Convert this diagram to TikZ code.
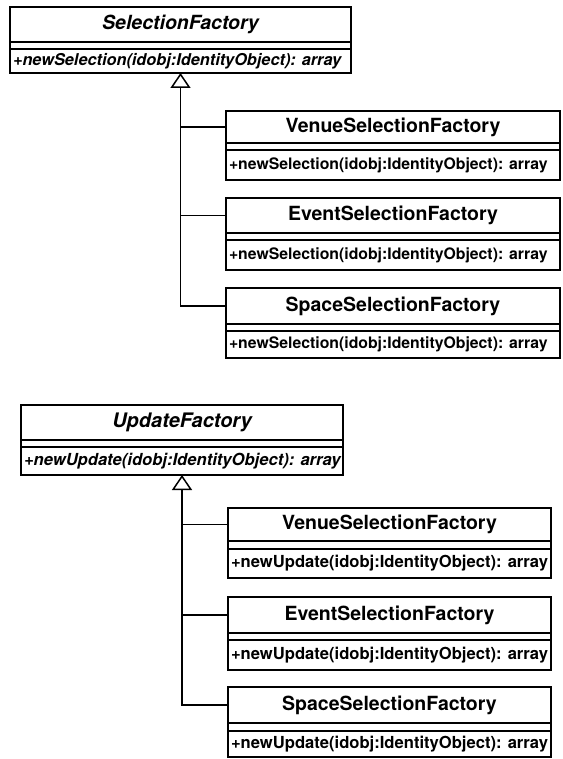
\documentclass[tikz,border=0pt]{standalone}
\usepackage{fontspec}
\setmainfont{TeX Gyre Heros}
\usetikzlibrary{arrows.meta}
\tikzset{
  clsbox/.style={draw, line width=1.3pt, inner sep=0pt, outer sep=0pt, anchor=north west},
  genline/.style={line width=1.5pt},
  genhead/.style={-{Triangle[open, length=15pt, width=20pt, line width=1.5pt]}},
}
\newcommand\umlclass[9]{%
  \pgfmathsetmacro\clsw{#4-#2}%
  \pgfmathsetmacro\clsha{#5-#3}%
  \pgfmathsetmacro\clshb{#6-#5}%
  \pgfmathsetmacro\clshc{#7-#6}%
  \node[clsbox, minimum width=\clsw pt, minimum height=\clsha pt] (#1) at (#2,#3) {\clstitlefont #8};
  \node[clsbox, minimum width=\clsw pt, minimum height=\clshb pt] (#1e) at (#1.south west) {};
  \node[clsbox, minimum width=\clsw pt, minimum height=\clshc pt] (#1m) at (#1e.south west) {\hbox to \clsw pt{\hspace{3pt}\clsmethfont #9\hss}};
}
\begin{document}
\begin{tikzpicture}[x=1pt, y=-1pt]
\fill[white] (0,0) rectangle (562,759);
\useasboundingbox (0,0) rectangle (562,759);

% ---------- top group ----------
\def\clstitlefont{\fontsize{19.5}{22}\selectfont\bfseries\itshape}
\def\clsmethfont{\fontsize{16.3}{18}\selectfont\bfseries\itshape}
\umlclass{sel}{10}{7}{351}{42}{49}{73}{SelectionFactory}{+newSelection(idobj:IdentityObject): array}

\def\clstitlefont{\fontsize{19.5}{22}\selectfont\bfseries}
\def\clsmethfont{\fontsize{15.8}{18}\selectfont\bfseries}
\umlclass{tvenue}{226}{111}{560}{143}{150}{180}{VenueSelectionFactory}{+newSelection(idobj:IdentityObject): array}
\umlclass{tevent}{226}{198}{560}{233}{240}{270}{EventSelectionFactory}{+newSelection(idobj:IdentityObject): array}
\umlclass{tspace}{226}{288}{560}{324}{331}{358}{SpaceSelectionFactory}{+newSelection(idobj:IdentityObject): array}

\draw[genline, genhead] (tspace.west) -| (selm.south);
\draw[genline] (tvenue.west) -- (tvenue.west -| selm.south);
\draw[genline] (tevent.west) -- (tevent.west -| selm.south);

% ---------- bottom group ----------
\def\clstitlefont{\fontsize{20}{22}\selectfont\bfseries\itshape}
\def\clsmethfont{\fontsize{16.6}{18}\selectfont\bfseries\itshape}
\umlclass{upd}{21}{405}{343}{440}{447}{475}{UpdateFactory}{+newUpdate(idobj:IdentityObject): array}

\def\clstitlefont{\fontsize{19.5}{22}\selectfont\bfseries}
\def\clsmethfont{\fontsize{16.6}{18}\selectfont\bfseries}
\umlclass{bvenue}{228}{508}{551}{541}{549}{578}{VenueSelectionFactory}{+newUpdate(idobj:IdentityObject): array}
\umlclass{bevent}{228}{597}{551}{633}{640}{670}{EventSelectionFactory}{+newUpdate(idobj:IdentityObject): array}
\umlclass{bspace}{228}{687}{551}{723}{731}{757}{SpaceSelectionFactory}{+newUpdate(idobj:IdentityObject): array}

\draw[genline, genhead] (bspace.west) -| (updm.south);
\draw[genline] (bvenue.west) -- (bvenue.west -| updm.south);
\draw[genline] (bevent.west) -- (bevent.west -| updm.south);
\end{tikzpicture}
\end{document}
